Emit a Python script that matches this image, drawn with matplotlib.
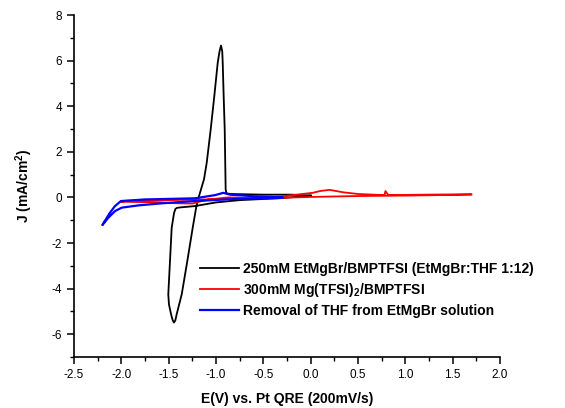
import matplotlib
matplotlib.use('Agg')
import matplotlib.pyplot as plt
from matplotlib.ticker import MultipleLocator, FormatStrFormatter

plt.rcParams['font.family'] = ['Liberation Sans', 'DejaVu Sans']
plt.rcParams['axes.unicode_minus'] = False
plt.rcParams['mathtext.fontset'] = 'custom'
plt.rcParams['mathtext.rm'] = 'Liberation Sans'
plt.rcParams['mathtext.bf'] = 'Liberation Sans:bold'

# 250mM EtMgBr/BMPTFSI
black_x = [0.0, -0.3, -0.75, -1.0, -1.222, -1.38, -1.412, -1.428, -1.443, -1.468,
           -1.486, -1.504, -1.497, -1.475, -1.458, -1.444, -1.43, -1.415, -1.362,
           -1.303, -1.246, -1.204, -1.18, -1.127, -1.098, -1.056, -1.018, -0.982,
           -0.963, -0.947, -0.934, -0.929, -0.919, -0.908, -0.898, -0.89, -0.85,
           -0.5, -0.2, 0.0]
black_y = [0.08, -0.03, -0.12, -0.22, -0.38, -0.44, -0.46, -0.5, -0.68, -1.33,
           -2.79, -4.25, -4.69, -5.12, -5.38, -5.49, -5.4, -5.12, -4.25,
           -2.79, -1.33, -0.31, 0.05, 0.79, 1.52, 2.98, 4.44, 5.90,
           6.4, 6.66, 6.4, 5.90, 4.44, 2.98, 0.35, 0.18, 0.15,
           0.12, 0.12, 0.08]

# 300mM Mg(TFSI)2/BMPTFSI
red_x = [-2.0, -1.6, -1.4, -1.25, -1.08, -0.87, -0.5, 0.0, 0.5, 1.0, 1.7,
         1.7, 1.2, 0.82, 0.79, 0.78, 0.5, 0.35, 0.2, 0.1, 0.02, -0.3,
         -0.5, -1.0, -1.5, -1.95, -2.0]
red_y = [-0.19, -0.22, -0.26, -0.27, -0.09, 0.0, -0.04, 0.02, 0.06, 0.08, 0.12,
         0.14, 0.12, 0.1, 0.28, 0.1, 0.15, 0.22, 0.33, 0.28, 0.2, 0.05,
         -0.02, -0.08, -0.12, -0.15, -0.19]

# Removal of THF from EtMgBr solution
blue_x = [-0.3, -0.8, -1.222, -1.574, -1.82, -1.996, -2.067, -2.137, -2.2,
          -2.12, -2.067, -2.004, -1.75, -1.222, -1.01, -0.923, -0.85, -0.6, -0.3]
blue_y = [-0.02, -0.07, -0.16, -0.26, -0.35, -0.45, -0.6, -0.89, -1.21,
          -0.67, -0.38, -0.16, -0.09, -0.04, 0.1, 0.2, 0.12, 0.05, 0.0]

labels = ['250mM EtMgBr/BMPTFSI (EtMgBr:THF 1:12)',
          r'300mM Mg(TFSI)$_\mathbf{2}$/BMPTFSI',
          'Removal of THF from EtMgBr solution']

fig = plt.figure(figsize=(5.65, 4.08), dpi=100)
ax = fig.add_axes([74 / 565, 1 - 357 / 408, 426 / 565, 342 / 408])

ax.plot(black_x, black_y, color='k', lw=1.3, solid_joinstyle='round', label=labels[0])
ax.plot(red_x, red_y, color='#ff0000', lw=1.3, solid_joinstyle='round', label=labels[1])
ax.plot(blue_x, blue_y, color='#0000ff', lw=1.6, solid_joinstyle='round', label=labels[2])

ax.set_xlim(-2.5, 2.0)
ax.set_ylim(-7, 8)
ax.spines['top'].set_visible(False)
ax.spines['right'].set_visible(False)
for s in ('left', 'bottom'):
    ax.spines[s].set_linewidth(1.2)

ax.xaxis.set_major_locator(MultipleLocator(0.5))
ax.xaxis.set_minor_locator(MultipleLocator(0.25))
ax.xaxis.set_major_formatter(FormatStrFormatter('%.1f'))
ax.yaxis.set_major_locator(MultipleLocator(2))
ax.yaxis.set_minor_locator(MultipleLocator(1))
ax.tick_params(which='major', direction='out', length=5, width=1.1, labelsize=8.5)
ax.tick_params(which='minor', direction='out', length=3, width=1.0)

ax.set_xlabel('E(V) vs. Pt QRE (200mV/s)', fontsize=10, fontweight='bold', labelpad=8)
ax.set_ylabel(r'J (mA/cm$^\mathbf{2}$)', fontsize=10, fontweight='bold', labelpad=12)

ax.legend(loc='upper left', bbox_to_anchor=(193 / 565, 1 - 255 / 408),
          bbox_transform=fig.transFigure, frameon=False, borderpad=0,
          handlelength=2.8, handletextpad=0.3, labelspacing=0.35,
          prop={'weight': 'bold', 'size': 10})

fig.savefig('out.png', dpi=100)
